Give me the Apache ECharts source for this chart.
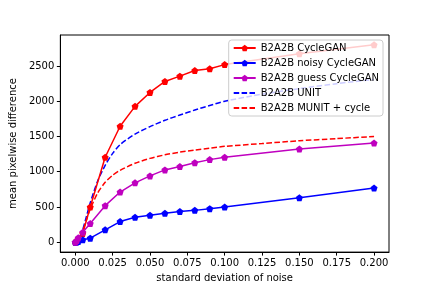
<!DOCTYPE html>
<html>
<head>
<meta charset="utf-8">
<script src="https://cdn.jsdelivr.net/npm/echarts@6/dist/echarts.min.js"></script>
<style>html,body{margin:0;padding:0;background:#fff}#c{width:432px;height:288px}</style>
</head>
<body>
<div id="c"></div>
<script>
const noiseX = [0, 0.001, 0.002, 0.005, 0.01, 0.02, 0.03, 0.04, 0.05, 0.06, 0.07, 0.08, 0.09, 0.1, 0.15, 0.2];
const cycleGAN = [0, 20, 50, 125, 500, 1205, 1646, 1928, 2125, 2281, 2356, 2436, 2460, 2520, 2675, 2800];
const noisyCycleGAN = [0, 5, 12, 35, 58, 176, 293, 354, 382, 410, 435, 452, 476, 500, 631, 768];
const guessCycleGAN = [0, 25, 63, 142, 265, 519, 712, 843, 941, 1026, 1073, 1129, 1172, 1205, 1322, 1407];
const dashX = [0, 0.0025, 0.005, 0.0075, 0.01, 0.015, 0.02, 0.025, 0.03, 0.04, 0.05, 0.06, 0.07, 0.08, 0.09, 0.1, 0.125, 0.15, 0.175, 0.2];
const unit = [0, 50, 180, 370, 560, 870, 1090, 1260, 1385, 1535, 1640, 1730, 1805, 1875, 1940, 2000, 2100, 2180, 2250, 2310];
const munit = [0, 45, 160, 320, 470, 700, 850, 950, 1020, 1120, 1190, 1240, 1278, 1308, 1335, 1360, 1400, 1440, 1470, 1500];
const xTicks = [0, 0.025, 0.05, 0.075, 0.1, 0.125, 0.15, 0.175, 0.2];
const yTicks = [0, 500, 1000, 1500, 2000, 2500];
const names = ['B2A2B CycleGAN', 'B2A2B noisy CycleGAN', 'B2A2B guess CycleGAN', 'B2A2B UNIT', 'B2A2B MUNIT + cycle'];

const pent = 'path://M0,-1 L0.951,-0.309 L0.588,0.809 L-0.588,0.809 L-0.951,-0.309 Z';
const zip = (xs, ys) => xs.map((x, i) => [x, ys[i]]);
const font = 'DejaVu Sans';

function markerSeries(name, ys, color) {
  return {
    name, type: 'line', data: zip(noiseX, ys), symbol: pent, symbolSize: 7,
    lineStyle: { color, width: 1.5 }, itemStyle: { color }, z: 3
  };
}
function dashSeries(name, ys, color) {
  return {
    name, type: 'line', data: zip(dashX, ys), symbol: 'none', smooth: 0.25,
    lineStyle: { color, width: 1.5, type: [5.5, 2.4] }, itemStyle: { color }, z: 2
  };
}

const chart = echarts.init(document.getElementById('c'), null, { renderer: 'canvas' });
chart.setOption({
  animation: false,
  textStyle: { fontFamily: font },
  grid: { left: 54, right: 43, top: 35, bottom: 35, show: true, borderColor: '#000', borderWidth: 1, backgroundColor: 'transparent' },
  legend: {
    orient: 'vertical', right: 49, top: 40, itemWidth: 22, itemHeight: 8, itemGap: 5,
    padding: [3, 4, 3, 4],
    backgroundColor: 'rgba(255,255,255,0.8)', borderColor: '#cccccc', borderWidth: 1, borderRadius: 3,
    textStyle: { fontFamily: font, fontSize: 10, color: '#000' },
    data: [
      { name: names[0] }, { name: names[1] }, { name: names[2] },
      { name: names[3], itemStyle: { opacity: 0 } },
      { name: names[4], itemStyle: { opacity: 0 } }
    ]
  },
  xAxis: {
    type: 'value', min: -0.01, max: 0.21,
    name: 'standard deviation of noise', nameLocation: 'middle', nameGap: 20,
    nameTextStyle: { fontFamily: font, fontSize: 10, color: '#000' },
    axisLine: { show: true, onZero: false, lineStyle: { color: '#000', width: 1 } },
    axisTick: { show: true, length: 3.5, inside: false, customValues: xTicks, lineStyle: { color: '#000' } },
    axisLabel: { customValues: xTicks, formatter: v => v.toFixed(3), fontFamily: font, fontSize: 10, color: '#000', margin: 6 },
    splitLine: { show: false }
  },
  yAxis: {
    type: 'value', min: -140, max: 2940,
    name: 'mean pixelwise difference', nameLocation: 'middle', nameGap: 35, nameRotate: 90,
    nameTextStyle: { fontFamily: font, fontSize: 10, color: '#000' },
    axisLine: { show: true, onZero: false, lineStyle: { color: '#000', width: 1 } },
    axisTick: { show: true, length: 3.5, inside: false, customValues: yTicks, lineStyle: { color: '#000' } },
    axisLabel: { customValues: yTicks, formatter: v => String(v), fontFamily: font, fontSize: 10, color: '#000', margin: 6 },
    splitLine: { show: false }
  },
  series: [
    markerSeries(names[0], cycleGAN, '#ff0000'),
    markerSeries(names[1], noisyCycleGAN, '#0000ff'),
    markerSeries(names[2], guessCycleGAN, '#bf00bf'),
    dashSeries(names[3], unit, '#0000ff'),
    dashSeries(names[4], munit, '#ff0000')
  ]
});
</script>
</body>
</html>
